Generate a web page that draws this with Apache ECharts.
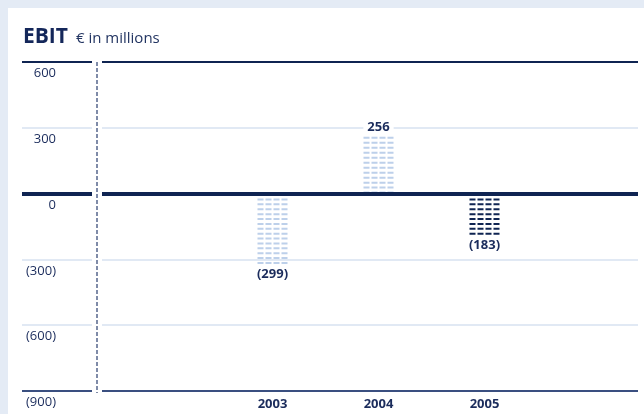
<!DOCTYPE html>
<html>
<head>
<meta charset="utf-8">
<script src="https://cdn.jsdelivr.net/npm/echarts@6/dist/echarts.min.js"></script>
<style>
  html, body { margin: 0; padding: 0; background: #ffffff; }
  #chart { width: 644px; height: 414px; }
</style>
</head>
<body>
<div id="chart"></div>
<script>
// EBIT by year, € in millions
const years = ['2003', '2004', '2005'];
const ebit = [-299, 256, -183];
const axisMin = -900;
const axisMax = 600;
const axisStep = 300;

const NAVY = '#0f2452';
const TEXT = '#1b2c5c';
const LIGHT_BAR = '#bdd0ea';
const GRID_LINE = '#d7e2f0';
const FONT = '"Open Sans", "Noto Sans", sans-serif';

// accounting style: negatives in parentheses
const fmt = v => (v < 0 ? '(' + (-v) + ')' : String(v));

const plotTop = 62, plotBottom = 23;

const yBase = {
  type: 'value', min: axisMin, max: axisMax, interval: axisStep,
  axisLine: { show: false }, axisTick: { show: false },
  splitLine: { show: true, lineStyle: { color: GRID_LINE, width: 1.5 } },
  axisLabel: { show: false }
};

// emphasised reference lines: top, zero and bottom
const refLines = {
  silent: true, symbol: 'none', label: { show: false },
  data: [
    { yAxis: axisMax, lineStyle: { color: NAVY, width: 2, type: 'solid' } },
    { yAxis: 0, lineStyle: { color: NAVY, width: 4, type: 'solid' } },
    { yAxis: axisMin, lineStyle: { color: '#3a4f80', width: 2, type: 'solid' } }
  ]
};

const chart = echarts.init(document.getElementById('chart'), null, { renderer: 'canvas' });

chart.setOption({
  backgroundColor: '#ffffff',
  animation: false,
  textStyle: { fontFamily: FONT },
  title: {
    left: 18, top: 22,
    text: '{a|EBIT}{b|€ in millions}',
    textStyle: {
      fontWeight: 'normal',
      rich: {
        a: { fontFamily: FONT, fontSize: 21, fontWeight: 'bold', color: '#14275a' },
        b: { fontFamily: FONT, fontSize: 15, fontWeight: 'normal', color: '#233562', padding: [3, 0, 0, 8] }
      }
    }
  },
  graphic: [
    { type: 'rect', shape: { x: 0, y: 0, width: 644, height: 8 }, style: { fill: '#e4ebf5' }, silent: true },
    { type: 'rect', shape: { x: 0, y: 0, width: 8, height: 414 }, style: { fill: '#e4ebf5' }, silent: true },
    {
      type: 'line', silent: true,
      shape: { x1: 97, y1: 62, x2: 97, y2: 393 },
      style: { stroke: '#56668c', lineWidth: 1.5, lineDash: [4, 2] }
    }
  ],
  grid: [
    { left: 102, right: 6, top: plotTop, bottom: plotBottom },   // main plot lines
    { left: 22, width: 70, top: plotTop, bottom: plotBottom },   // left label column
    { left: 219.5, width: 318, top: plotTop, bottom: plotBottom } // bars
  ],
  xAxis: [
    { gridIndex: 0, type: 'value', show: false, min: 0, max: 1 },
    { gridIndex: 1, type: 'value', show: false, min: 0, max: 1 },
    {
      gridIndex: 2, type: 'category', data: years, position: 'bottom',
      axisLine: { show: false }, axisTick: { show: false }, splitLine: { show: false },
      axisLabel: { fontFamily: FONT, fontSize: 13, fontWeight: 'bold', color: TEXT, margin: 7 }
    }
  ],
  yAxis: [
    Object.assign({ gridIndex: 0 }, yBase),
    Object.assign({ gridIndex: 1 }, yBase, {
      axisLabel: {
        show: true, inside: true, align: 'right', margin: 34,
        verticalAlign: 'top', padding: [5, 0, 0, 0],
        fontFamily: FONT, fontSize: 13, color: TEXT,
        formatter: fmt
      }
    }),
    Object.assign({ gridIndex: 2 }, yBase, { splitLine: { show: false } })
  ],
  series: [
    { type: 'line', xAxisIndex: 0, yAxisIndex: 0, data: [], z: 5, markLine: refLines },
    { type: 'line', xAxisIndex: 1, yAxisIndex: 1, data: [], z: 5, markLine: refLines },
    {
      type: 'pictorialBar', xAxisIndex: 2, yAxisIndex: 2, z: 3,
      symbol: 'path://M0,0h6v2h-6zM8,0h6v2h-6zM16,0h6v2h-6zM24,0h6v2h-6z',
      symbolSize: [30, 2],
      symbolRepeat: true,
      symbolMargin: 1.5,
      label: {
        show: true, fontFamily: FONT, fontSize: 13, fontWeight: 'bold', color: TEXT,
        backgroundColor: '#ffffff', padding: [2, 4, 1, 4], distance: 2,
        formatter: p => fmt(p.value)
      },
      data: ebit.map((v, i) => ({
        value: v,
        itemStyle: { color: i === ebit.length - 1 ? NAVY : LIGHT_BAR },
        label: { position: v < 0 ? 'bottom' : 'top' }
      }))
    }
  ]
});
</script>
</body>
</html>
